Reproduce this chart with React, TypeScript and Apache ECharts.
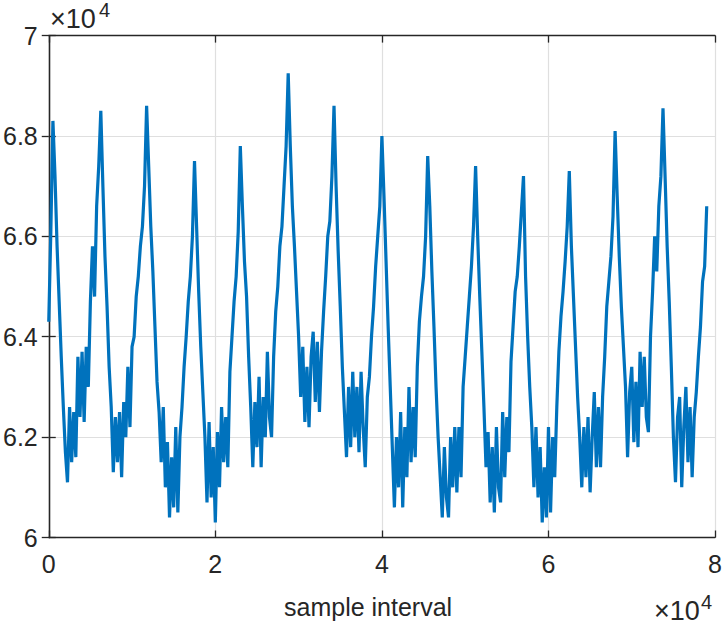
import React, { useEffect, useRef } from "react";
import * as echarts from "echarts";

// sample index spacing between stored points
const SAMPLE_STEP = 250;

// signal values (raw units)
const signal: number[] = [
  64300, 66100, 68300, 67200, 65800, 64700, 63600, 62600, 61700, 61100,
  62600, 61500, 62500, 61600, 63600, 62400, 63700, 62300, 63800, 63000,
  64700, 65800, 64800, 66600, 67400, 68500, 67000, 65600, 64600, 63400,
  62600, 61300, 62400, 61500, 62500, 61200, 62700, 62000, 63400, 62200,
  63800, 64000, 64800, 65200, 65800, 66200, 67000, 68600, 67400, 66200,
  65300, 64200, 63100, 62500, 61500, 62600, 61000, 61900, 60400, 61600,
  60600, 62200, 60500, 62000, 62600, 63400, 64000, 64700, 65200, 66000,
  67500, 66200, 64900, 63800, 62900, 62000, 60700, 62300, 60800, 61800,
  60300, 62100, 61000, 62600, 61500, 62400, 61400, 63300, 64000, 64700,
  65200, 66100, 67800, 66600, 65500, 64800, 63600, 62600, 61400, 62700,
  61800, 63200, 61400, 62800, 62000, 63700, 62400, 62000, 63600, 64500,
  65000, 65800, 66200, 67000, 67800, 69250, 67800, 66600, 65800, 64900,
  64000, 62800, 63800, 62300, 63400, 62200, 63600, 64100, 62700, 63900,
  62500, 63700, 64500, 65200, 66000, 66300, 67200, 68600, 67000, 65700,
  64600, 63400, 62500, 61600, 63000, 61800, 63300, 62000, 63000, 61700,
  63300, 62200, 61400, 62800, 63200, 64000, 64600, 65400, 66000, 66600,
  68000, 66800, 65500, 64200, 63000, 61800, 60600, 62000, 61000, 62500,
  60600, 62200, 61200, 63000, 61500, 62600, 61600, 63400, 64300, 64800,
  65200, 66000, 67600, 66600, 65300, 64200, 63000, 62000, 61200, 60400,
  61800, 60800, 60400, 62000, 61000, 62200, 60900, 62200, 61200, 63000,
  63600, 64200, 64800, 65400, 66200, 67400, 66000, 64800, 63700, 62600,
  61400, 62100, 60700, 61800, 60500, 62200, 61000, 60700, 62500, 61200,
  62400, 61700, 63500, 64200, 64900, 65200, 65800, 66500, 67200, 65200,
  64000, 63000, 62200, 61000, 62200, 60800, 61800, 60300, 61400, 60400,
  62200, 60500, 62000, 61200, 62600, 63700, 64400, 64900, 65500, 66200,
  67300, 65800, 64800, 63800, 62800, 62000, 61000, 62200, 61200, 62400,
  60900, 62000, 62900, 61400, 62600, 61400, 62800, 63600, 64600, 65100,
  65600, 66400, 68100, 66800, 65600, 64600, 63800, 63000, 61600, 62900,
  63400, 61900, 63100, 61800, 63700, 62600, 63600, 62400, 62100, 64000,
  64900, 66000, 65300, 66600, 67200, 68550, 67200, 65800, 64700, 63400,
  62000, 61100, 62400, 62800, 61000, 62200, 63000, 61500, 62600, 61200,
  62400, 62900, 63600, 64200, 65100, 65400, 66600,
];

// axis ranges and ticks (raw units)
const xRange = [0, 80000];
const xTickStep = 20000;
const yRange = [60000, 70000];
const yTickStep = 2000;
const exponentText = "×10";
const exponentPower = "4";
const xLabel = "sample interval";

const FONT = "'Liberation Sans', Arial, Helvetica, sans-serif";
const INK = "#262626";

export default function App() {
  const ref = useRef<HTMLDivElement>(null);

  useEffect(() => {
    document.body.style.margin = "0";
    if (!ref.current) return;
    const chart = echarts.init(ref.current, undefined, { renderer: "svg" });
    const fmt = (v: number) => String(parseFloat((v / 10000).toFixed(1)));
    const points = signal.map((v, i) => [i * SAMPLE_STEP, v]);

    const axisLine = { show: true, lineStyle: { color: INK, width: 1.3 } };
    const axisTick = { show: true, inside: true, length: 7, lineStyle: { color: INK, width: 1.3 } };

    chart.setOption({
      animation: false,
      backgroundColor: "#ffffff",
      grid: { left: 48.3, right: 9, top: 35.6, bottom: 87.5, containLabel: false },
      xAxis: [
        {
          type: "value",
          min: xRange[0],
          max: xRange[1],
          interval: xTickStep,
          axisLine,
          axisTick,
          axisLabel: {
            color: INK,
            fontSize: 25,
            fontFamily: FONT,
            margin: 14,
            formatter: fmt,
          },
          splitLine: { show: true, lineStyle: { color: "#dfdfdf", width: 1.2 } },
        },
        {
          type: "value",
          position: "top",
          min: xRange[0],
          max: xRange[1],
          interval: xTickStep,
          axisLine,
          axisTick,
          axisLabel: { show: false },
          splitLine: { show: false },
        },
      ],
      yAxis: [
        {
          type: "value",
          min: yRange[0],
          max: yRange[1],
          interval: yTickStep,
          axisLine,
          axisTick,
          axisLabel: {
            color: INK,
            fontSize: 25,
            fontFamily: FONT,
            margin: 11,
            formatter: fmt,
          },
          splitLine: { show: true, lineStyle: { color: "#dfdfdf", width: 1.2 } },
        },
        {
          type: "value",
          position: "right",
          min: yRange[0],
          max: yRange[1],
          interval: yTickStep,
          axisLine,
          axisTick,
          axisLabel: { show: false },
          splitLine: { show: false },
        },
      ],
      series: [
        {
          type: "line",
          data: points,
          xAxisIndex: 0,
          yAxisIndex: 0,
          showSymbol: false,
          symbol: "none",
          lineStyle: { color: "#0072BD", width: 3.2, join: "miter", miterLimit: 4 },
          z: 3,
        },
      ],
      graphic: [
        {
          type: "text",
          x: 50,
          y: 19,
          style: { text: exponentText, font: `27px ${FONT}`, fill: INK, verticalAlign: "middle", align: "left" },
        },
        {
          type: "text",
          x: 99,
          y: 10,
          style: { text: exponentPower, font: `20px ${FONT}`, fill: INK, verticalAlign: "middle", align: "left" },
        },
        {
          type: "text",
          x: 654,
          y: 611,
          style: { text: exponentText, font: `27px ${FONT}`, fill: INK, verticalAlign: "middle", align: "left" },
        },
        {
          type: "text",
          x: 701,
          y: 602,
          style: { text: exponentPower, font: `20px ${FONT}`, fill: INK, verticalAlign: "middle", align: "left" },
        },
        {
          type: "text",
          x: 284,
          y: 607,
          style: { text: xLabel, font: `25px ${FONT}`, fill: INK, verticalAlign: "middle", align: "left" },
        },
      ],
    });
    return () => chart.dispose();
  }, []);

  return <div ref={ref} style={{ width: 725, height: 625 }} />;
}
